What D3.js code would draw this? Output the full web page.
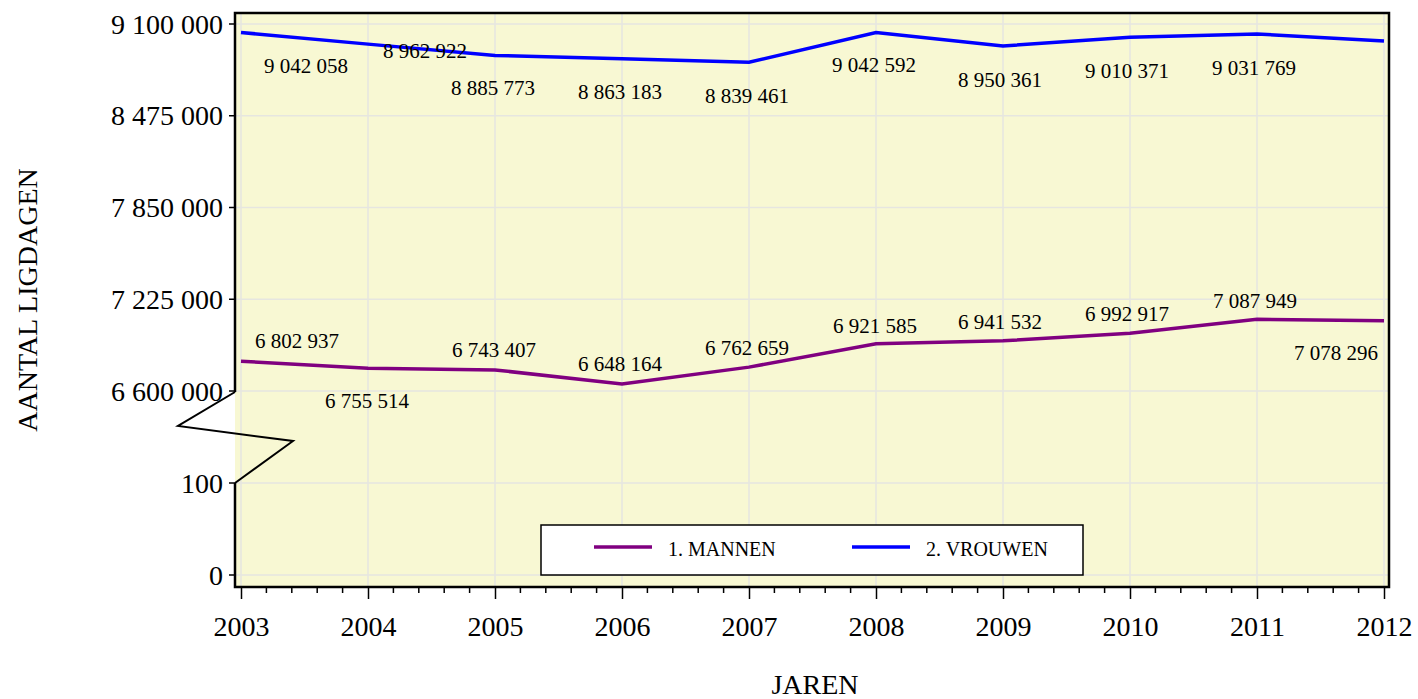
<!DOCTYPE html>
<html><head><meta charset="utf-8">
<script src="https://cdn.jsdelivr.net/npm/d3@7"></script>
<style>
html,body{margin:0;padding:0;background:#fff;}
text{font-family:"Liberation Serif","Times New Roman",serif;fill:#000;}
</style></head>
<body>
<svg id="chart" width="1418" height="699"></svg>
<script>
const years = [2003,2004,2005,2006,2007,2008,2009,2010,2011,2012];
const mannen  = [6802937,6755514,6743407,6648164,6762659,6921585,6941532,6992917,7087949,7078296];
const vrouwen = [9042058,8962922,8885773,8863183,8839461,9042592,8950361,9010371,9031769,8985000];
const vrouwenLabelShown = [true,true,true,true,true,true,true,true,true,false];
const upperTicks = [6600000,7225000,7850000,8475000,9100000];
const lowerTicks = [0,100];
const seriesNames = ["1. MANNEN","2. VROUWEN"];
const seriesColors = ["#800080","#0000ff"];
// label placement offsets (dx, dy of label centre from the point)
const mannenLabelOffset  = [[56,-20],[-1,33],[-1,-20],[-2,-20],[-2,-19],[-1,-18],[-3,-19],[-3,-19],[-2,-18],[-48,32]];
const vrouwenLabelOffset = [[65,33],[57,7],[-2,33],[-2,33],[-2,34],[-2,33],[-3,34],[-3,34],[-3,34],[0,0]];

const svg = d3.select("#chart");
const L = 235, R = 1389, T = 13, B = 587;
const x = d3.scaleLinear().domain([2003,2012]).range([241,1384]);
const yU = d3.scaleLinear().domain([6600000,9100000]).range([391,24]);
const yL = d3.scaleLinear().domain([0,100]).range([575,483]);
const fmt = v => d3.format(",")(v).replace(/,/g," ");

// background
svg.append("rect").attr("x",L).attr("y",T).attr("width",R-L).attr("height",B-T).attr("fill","#f8f8d3");

// grid
const g = svg.append("g").attr("stroke","#e6e6e0").attr("stroke-width",1.5);
years.forEach(yr => g.append("line").attr("x1",x(yr)).attr("x2",x(yr)).attr("y1",T).attr("y2",B));
upperTicks.forEach(v => g.append("line").attr("x1",L).attr("x2",R).attr("y1",yU(v)).attr("y2",yU(v)));
lowerTicks.forEach(v => g.append("line").attr("x1",L).attr("x2",R).attr("y1",yL(v)).attr("y2",yL(v)));

// lines
const lineM = d3.line().x((d,i)=>x(years[i])).y(d=>yU(d));
svg.append("path").datum(mannen).attr("d",lineM).attr("fill","none").attr("stroke",seriesColors[0]).attr("stroke-width",3.5);
svg.append("path").datum(vrouwen).attr("d",lineM).attr("fill","none").attr("stroke",seriesColors[1]).attr("stroke-width",3.5);

// data labels
const lab = svg.append("g").attr("font-size",21).attr("text-anchor","middle").attr("dominant-baseline","central");
mannen.forEach((v,i)=>{
  lab.append("text").attr("x",x(years[i])+mannenLabelOffset[i][0]).attr("y",yU(v)+mannenLabelOffset[i][1]).text(fmt(v));
});
vrouwen.forEach((v,i)=>{
  if(!vrouwenLabelShown[i]) return;
  lab.append("text").attr("x",x(years[i])+vrouwenLabelOffset[i][0]).attr("y",yU(v)+vrouwenLabelOffset[i][1]).text(fmt(v));
});

// frame
const fr = svg.append("g").attr("stroke","#000").attr("stroke-width",2.5).attr("fill","none");
fr.append("path").attr("d",`M${L},392 L${L},${T} L${R},${T} L${R},${B} L${L},${B} L${L},483`);
// axis break zigzag
fr.append("path").attr("stroke-width",2).attr("d",`M${L},392 L178,426 L293,441 L${L},483`);

// y axis
const ya = svg.append("g");
const yTicks = upperTicks.map(v=>({v,y:yU(v)})).concat(lowerTicks.map(v=>({v,y:yL(v)})));
yTicks.forEach(t=>{
  ya.append("line").attr("x1",L-6).attr("x2",L).attr("y1",t.y).attr("y2",t.y).attr("stroke","#000").attr("stroke-width",1.5);
  ya.append("text").attr("x",L-12).attr("y",t.y).attr("text-anchor","end").attr("dominant-baseline","central").attr("font-size",28).text(fmt(t.v));
});

// x axis
const xa = svg.append("g").attr("transform",`translate(0,${B})`);
const xAxis = d3.axisBottom(x).tickValues(years).tickFormat(d3.format("d")).tickSize(12).tickPadding(17);
xa.call(xAxis);
xa.select(".domain").remove();
xa.selectAll(".tick line").attr("stroke","#000").attr("stroke-width",1.5);
xa.selectAll(".tick text").attr("font-size",28).attr("font-family","Liberation Serif");
const minor = d3.range(2003,2012.001,0.2).filter(v=>Math.abs(v-Math.round(v))>0.01);
xa.selectAll(".minor").data(minor).enter().append("line")
  .attr("x1",d=>x(d)).attr("x2",d=>x(d)).attr("y1",0).attr("y2",6).attr("stroke","#000").attr("stroke-width",1.5);

// axis titles
svg.append("text").attr("x",815).attr("y",694).attr("text-anchor","middle").attr("font-size",28).text("JAREN");
svg.append("text").attr("transform","translate(27,300) rotate(-90)").attr("text-anchor","middle").attr("dominant-baseline","central").attr("font-size",28).text("AANTAL LIGDAGEN");

// legend
const lg = svg.append("g");
lg.append("rect").attr("x",541).attr("y",525).attr("width",542).attr("height",50).attr("fill","#fff").attr("stroke","#000").attr("stroke-width",1.5);
const legX = [594,852];
seriesNames.forEach((n,i)=>{
  lg.append("line").attr("x1",legX[i]).attr("x2",legX[i]+58).attr("y1",547).attr("y2",547).attr("stroke",seriesColors[i]).attr("stroke-width",3.5);
  lg.append("text").attr("x",legX[i]+74).attr("y",549).attr("dominant-baseline","central").attr("font-size",20).text(n);
});
</script>
</body></html>
